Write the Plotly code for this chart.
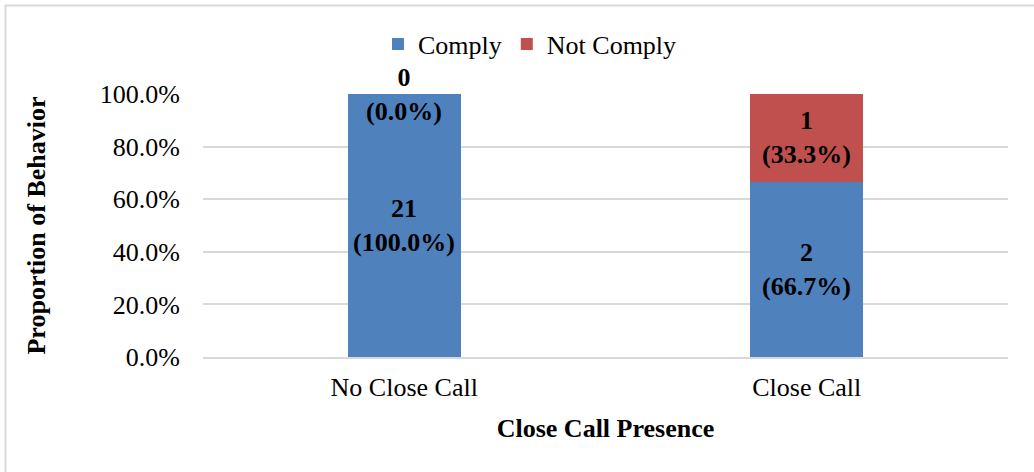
import plotly.graph_objects as go

categories = ["No Close Call", "Close Call"]
comply_counts = [21, 2]
not_comply_counts = [0, 1]
comply_pct = [100.0, 66.7]
not_comply_pct = [0.0, 33.3]
y_ticks = [0, 20, 40, 60, 80, 100]
y_tick_labels = ["0.0%", "20.0%", "40.0%", "60.0%", "80.0%", "100.0%"]

FONT = "Liberation Serif"
FS = 26
BLUE = "#4f81bd"
RED = "#c0504d"
GRID = "#d9d9d9"

W, H = 1034, 472
ML, MR, MT, MB = 203, 26, 94, 115
PW, PH = W - ML - MR, H - MT - MB

fig = go.Figure()

fig.add_trace(go.Bar(
    x=categories, y=comply_pct, name="Comply",
    marker=dict(color=BLUE, line=dict(width=0)),
))
fig.add_trace(go.Bar(
    x=categories, y=not_comply_pct, name="Not Comply",
    marker=dict(color=RED, line=dict(width=0)),
))

# data labels: count + (percent), centered on each segment
for i, cat in enumerate(categories):
    base = 0
    for cnt, pct in ((comply_counts[i], comply_pct[i]), (not_comply_counts[i], not_comply_pct[i])):
        fig.add_annotation(
            x=cat, y=base + pct / 2,
            text=f"<b>{cnt}<br>({pct:.1f}%)</b>",
            showarrow=False,
            font=dict(family=FONT, size=FS, color="black"),
            xanchor="center", yanchor="middle",
        )
        base += pct

# outer chart border (cropped at right and bottom in the reference)
fig.add_shape(
    type="rect", xref="paper", yref="paper",
    x0=(5.5 - ML) / PW, x1=(W + 20 - ML) / PW,
    y0=-(MB + 20) / PH, y1=1 + (MT - 5.5) / PH,
    line=dict(color=GRID, width=2), fillcolor="rgba(0,0,0,0)",
    layer="below",
)

fig.update_layout(
    barmode="stack",
    bargap=0.72,
    width=W, height=H,
    margin=dict(l=ML, r=MR, t=MT, b=MB, autoexpand=False),
    plot_bgcolor="white",
    paper_bgcolor="white",
    font=dict(family=FONT, size=FS, color="black"),
    showlegend=True,
    legend=dict(
        orientation="h",
        traceorder="normal",
        x=(530 - ML) / PW, xanchor="center",
        y=1 + (MT - 44) / PH, yanchor="middle",
        font=dict(family=FONT, size=FS),
        itemwidth=30,
        bgcolor="rgba(0,0,0,0)",
    ),
    xaxis=dict(
        showgrid=False,
        showline=True, linecolor=GRID, linewidth=2,
        ticks="", ticklabelstandoff=6,
        tickfont=dict(family=FONT, size=FS),
        title=dict(text="<b>Close Call Presence</b>", standoff=18,
                   font=dict(family=FONT, size=FS)),
    ),
    yaxis=dict(
        range=[0, 100],
        tickvals=y_ticks, ticktext=y_tick_labels,
        showgrid=True, gridcolor=GRID, gridwidth=2,
        zeroline=False, showline=False,
        ticks="", ticklabelstandoff=22,
        tickfont=dict(family=FONT, size=FS),
        title=dict(text="<b>Proportion of Behavior</b>", standoff=46,
                   font=dict(family=FONT, size=FS)),
    ),
)

fig.write_html(
    "out.html",
    config={"displayModeBar": False},
    post_script="document.body.style.margin='0';",
)
